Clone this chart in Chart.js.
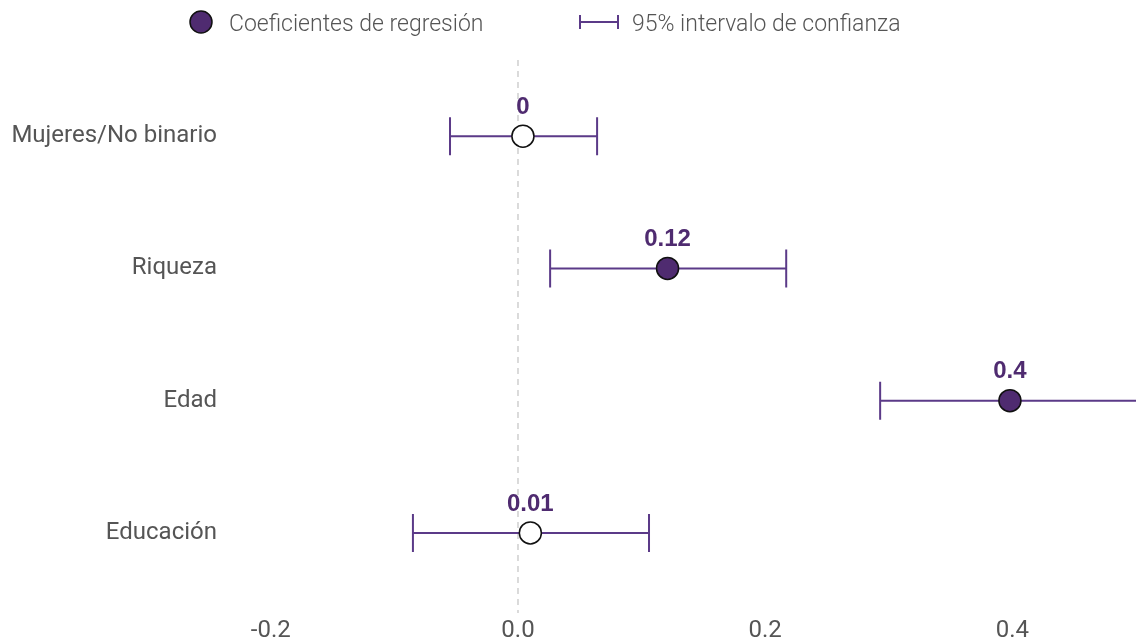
<!DOCTYPE html>
<html>
<head>
<meta charset="utf-8">
<script src="https://cdn.jsdelivr.net/npm/chart.js@4"></script>
<style>
  body { margin: 0; background: #fff; }
  #wrap { position: relative; width: 1136px; height: 640px; }
  #legend { position: absolute; top: 10px; left: 0; width: 1136px; height: 30px;
            font-family: Roboto, sans-serif; font-weight: 300; font-size: 23px; color: #555; }
  #legend span { position: absolute; top: 0px; }
</style>
</head>
<body>
<div id="wrap">
  <canvas id="myChart"></canvas>
  <div id="legend">
    <span style="left:229px">Coeficientes de regresión</span>
    <span style="left:632px">95% intervalo de confianza</span>
  </div>
</div>
<script>
// Data
var categories = ['Mujeres/No binario', 'Riqueza', 'Edad', 'Educación'];
var coefs      = [0.004, 0.121, 0.398, 0.010];
var lower      = [-0.055, 0.026, 0.293, -0.085];
var upper      = [0.064, 0.217, 0.56, 0.106];
var labels     = ['0', '0.12', '0.4', '0.01'];
var significant = [false, true, true, false];

var purple = '#4f2b70';
var barColor = '#5b3a88';

// Draws CI bars, zero line, labels and legend marks
var errorBars = {
  id: 'errorBars',
  beforeDatasetsDraw: function(chart) {
    var ctx = chart.ctx;
    var xs = chart.scales.x, ys = chart.scales.y;
    var area = chart.chartArea;
    // dashed line at zero
    ctx.save();
    ctx.strokeStyle = '#cfcfcf';
    ctx.lineWidth = 1.5;
    ctx.setLineDash([6, 5]);
    var x0 = xs.getPixelForValue(0);
    ctx.beginPath();
    ctx.moveTo(x0, area.top - 10);
    ctx.lineTo(x0, area.bottom + 14);
    ctx.stroke();
    ctx.restore();

    ctx.save();
    ctx.beginPath();
    ctx.rect(area.left, 0, area.right - area.left + 2, chart.height);
    ctx.clip();
    ctx.strokeStyle = barColor;
    ctx.lineWidth = 2;
    for (var i = 0; i < categories.length; i++) {
      var y = ys.getPixelForValue(i);
      var a = xs.getPixelForValue(lower[i]);
      var b = xs.getPixelForValue(upper[i]);
      ctx.beginPath();
      ctx.moveTo(a, y); ctx.lineTo(b, y);
      ctx.moveTo(a, y - 19); ctx.lineTo(a, y + 19);
      ctx.moveTo(b, y - 19); ctx.lineTo(b, y + 19);
      ctx.stroke();
    }
    ctx.restore();
  },
  afterDatasetsDraw: function(chart) {
    var ctx = chart.ctx;
    var xs = chart.scales.x, ys = chart.scales.y;
    ctx.save();
    ctx.fillStyle = purple;
    ctx.font = 'bold 24px "Liberation Sans", Arial, sans-serif';
    ctx.textAlign = 'center';
    ctx.textBaseline = 'middle';
    for (var i = 0; i < categories.length; i++) {
      ctx.fillText(labels[i], xs.getPixelForValue(coefs[i]), ys.getPixelForValue(i) - 29);
    }
    // legend marks
    ctx.beginPath();
    ctx.arc(201, 22, 11, 0, Math.PI * 2);
    ctx.fillStyle = purple;
    ctx.fill();
    ctx.strokeStyle = '#111';
    ctx.lineWidth = 1.5;
    ctx.stroke();
    ctx.strokeStyle = barColor;
    ctx.lineWidth = 2;
    ctx.beginPath();
    ctx.moveTo(580, 22); ctx.lineTo(618, 22);
    ctx.moveTo(580, 15); ctx.lineTo(580, 29);
    ctx.moveTo(618, 15); ctx.lineTo(618, 29);
    ctx.stroke();
    ctx.restore();
  }
};

var ctx = document.getElementById('myChart').getContext('2d');
var myChart = new Chart(ctx, {
  type: 'scatter',
  data: {
    datasets: [{
      data: coefs.map(function(v, i) { return { x: v, y: i }; }),
      pointRadius: 11,
      pointHoverRadius: 11,
      pointBackgroundColor: significant.map(function(s) { return s ? purple : '#ffffff'; }),
      pointBorderColor: '#111',
      pointBorderWidth: 1.5
    }]
  },
  options: {
    responsive: true,
    maintainAspectRatio: false,
    animation: false,
    clip: false,
    layout: { autoPadding: false, padding: { top: 70, right: 0, bottom: 0, left: 0 } },
    plugins: { legend: { display: false }, tooltip: { enabled: false } },
    scales: {
      x: {
        type: 'linear',
        min: -0.233,
        max: 0.5,
        afterFit: function(s) { s.height = 41; s.paddingLeft = 0; s.paddingRight = 0; },
        grid: { display: false, drawTicks: false },
        border: { display: false },
        ticks: {
          stepSize: 0.2,
          includeBounds: false,
          padding: 18,
          color: '#555',
          font: { family: 'Roboto', size: 24 },
          callback: function(v) { return v.toFixed(1); }
        }
      },
      y: {
        type: 'linear',
        min: -0.5,
        max: categories.length - 0.5,
        reverse: true,
        afterFit: function(scale) { scale.width = 230; scale.paddingTop = 0; scale.paddingBottom = 0; },
        afterBuildTicks: function(scale) {
          scale.ticks = categories.map(function(c, i) { return { value: i }; });
        },
        grid: { display: false, drawTicks: false },
        border: { display: false },
        ticks: {
          padding: 13,
          color: '#555',
          font: { family: 'Roboto', size: 24 },
          callback: function(v) { return categories[v]; }
        }
      }
    }
  },
  plugins: [errorBars]
});
</script>
</body>
</html>
